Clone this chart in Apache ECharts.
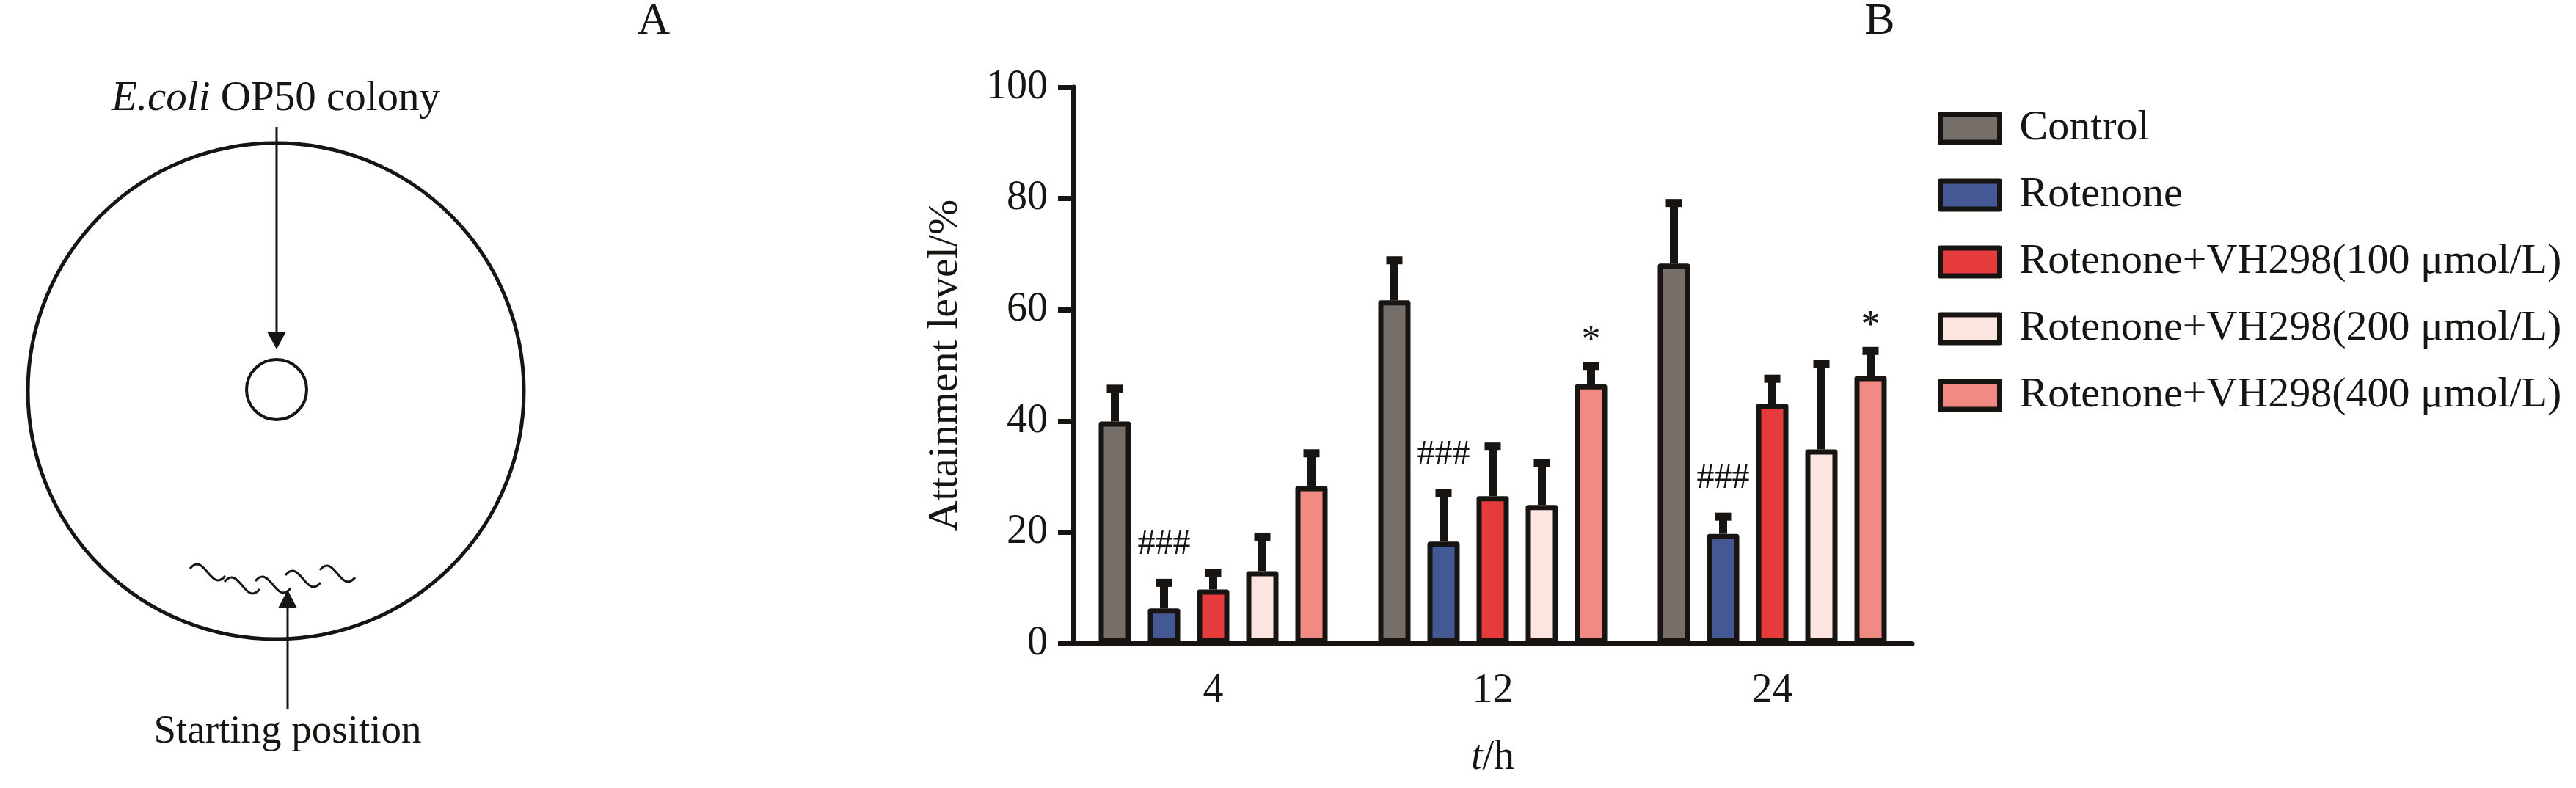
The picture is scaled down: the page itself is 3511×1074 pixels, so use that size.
<!DOCTYPE html>
<html>
<head>
<meta charset="utf-8">
<script src="https://cdn.jsdelivr.net/npm/echarts@6/dist/echarts.min.js"></script>
<style>
html,body{margin:0;padding:0;background:#fff;}
#chart{width:3511px;height:1074px;}
</style>
</head>
<body>
<div id="chart"></div>
<script>
// ---------- data ----------
const categories = ['4', '12', '24'];
const seriesNames = ['Control', 'Rotenone', 'Rotenone+VH298(100 \u03bcmol/L)', 'Rotenone+VH298(200 \u03bcmol/L)', 'Rotenone+VH298(400 \u03bcmol/L)'];
const controlMean = [39.9, 61.7, 68.3];
const rotenoneMean = [6.3, 18.3, 19.7];
const vh100Mean = [9.7, 26.5, 43.1];
const vh200Mean = [13.0, 24.9, 34.9];
const vh400Mean = [28.3, 46.6, 48.1];
const controlErr = [5.9, 7.2, 10.9];
const rotenoneErr = [4.6, 8.7, 3.1];
const vh100Err = [3.0, 8.9, 4.5];
const vh200Err = [6.2, 7.6, 15.3];
const vh400Err = [5.9, 3.3, 4.5];
const controlMarks = ['', '', ''];
const rotenoneMarks = ['###', '###', '###'];
const vh100Marks = ['', '', ''];
const vh200Marks = ['', '', ''];
const vh400Marks = ['', '*', '*'];
const yMin = 0, yMax = 100, yInterval = 20;

// ---------- style ----------
const INK = '#171411';
const FONT = 'Liberation Serif';
const colors = ['#766e68', '#455896', '#e63b3d', '#fce4e1', '#f08a82'];
const BAR_W = 44, BAR_GAP = 23;

const means = [controlMean, rotenoneMean, vh100Mean, vh200Mean, vh400Mean];
const errs = [controlErr, rotenoneErr, vh100Err, vh200Err, vh400Err];
const marks = [controlMarks, rotenoneMarks, vh100Marks, vh200Marks, vh400Marks];

const chart = echarts.init(document.getElementById('chart'), null, {renderer: 'canvas'});

function makeErr(si) {
  return function (params, api) {
    const j = api.value(0), m = api.value(1), e = api.value(2);
    const base = api.coord([j, m]);
    const top = api.coord([j, m + e]);
    const cx = base[0] + (si - 2) * (BAR_W + BAR_GAP);
    const children = [
      {type: 'line', shape: {x1: cx, y1: base[1], x2: cx, y2: top[1]}, style: {stroke: INK, lineWidth: 11}},
      {type: 'rect', shape: {x: cx - 11, y: top[1] - 5.5, width: 22, height: 11}, style: {fill: INK}}
    ];
    const mk = marks[si][params.dataIndex];
    if (mk) {
      const isStar = mk === '*';
      children.push({
        type: 'text',
        style: {
          text: mk, x: cx, y: top[1] - (isStar ? 33 : 52),
          align: 'center', verticalAlign: 'middle',
          fontFamily: FONT, fontSize: isStar ? 52 : 48, fill: INK
        }
      });
    }
    return {type: 'group', children: children};
  };
}

const series = [];
seriesNames.forEach(function (name, i) {
  series.push({
    name: name,
    type: 'bar',
    data: means[i],
    barWidth: BAR_W,
    barGap: (BAR_GAP / BAR_W * 100) + '%',
    itemStyle: {color: colors[i], borderColor: INK, borderWidth: 7, borderJoin: 'round'},
    z: 2
  });
});
seriesNames.forEach(function (name, i) {
  series.push({
    name: name + ' err',
    type: 'custom',
    renderItem: makeErr(i),
    encode: {x: 0, y: 1},
    data: categories.map(function (c, j) { return [j, means[i][j], errs[i][j]]; }),
    z: 3
  });
});

// decorative worm squiggles in panel A (drawing, not data)
const worms = [[283, 781], [330, 799], [372, 798], [413, 790], [460, 783]];
const wormEls = worms.map(function (w) {
  const x0 = w[0] - 24, x1 = w[0] + 24, y = w[1];
  return {
    type: 'bezierCurve',
    shape: {x1: x0, y1: y - 6, cpx1: x0 + 20, cpy1: y - 30, cpx2: x1 - 20, cpy2: y + 28, x2: x1, y2: y + 4},
    style: {fill: 'none', stroke: INK, lineWidth: 3}
  };
});

const option = {
  animation: false,
  backgroundColor: '#ffffff',
  textStyle: {fontFamily: FONT, color: INK},
  grid: {left: 1463, top: 119, width: 1143, height: 758, containLabel: false},
  legend: {
    orient: 'vertical', left: 2636, top: 141,
    data: seriesNames, icon: 'rect',
    itemWidth: 81, itemHeight: 38, itemGap: 33,
    itemStyle: {borderColor: INK, borderWidth: 7},
    textStyle: {fontFamily: FONT, fontSize: 58, color: INK, lineHeight: 45, padding: [0, 0, 0, 22]},
    selectedMode: false
  },
  xAxis: {
    type: 'category', data: categories,
    axisLine: {lineStyle: {color: INK, width: 7}},
    axisTick: {alignWithLabel: true, length: 21, lineStyle: {color: INK, width: 7}},
    axisLabel: {fontFamily: FONT, fontSize: 56, color: INK, margin: 37},
    name: '{i|t}{n|/h}', nameLocation: 'middle', nameGap: 128,
    nameTextStyle: {
      fontFamily: FONT, fontSize: 56, color: INK,
      rich: {
        i: {fontFamily: FONT, fontSize: 56, fontStyle: 'italic', color: INK},
        n: {fontFamily: FONT, fontSize: 56, color: INK}
      }
    }
  },
  yAxis: {
    type: 'value', min: yMin, max: yMax, interval: yInterval,
    axisLine: {show: true, lineStyle: {color: INK, width: 7}},
    axisTick: {show: true, length: 21, lineStyle: {color: INK, width: 7}},
    axisLabel: {fontFamily: FONT, fontSize: 56, color: INK, margin: 35},
    splitLine: {show: false},
    name: 'Attainment level/%', nameLocation: 'middle', nameGap: 145,
    nameTextStyle: {fontFamily: FONT, fontSize: 58, color: INK}
  },
  series: series,
  graphic: [
    {type: 'circle', shape: {cx: 376, cy: 533, r: 338}, style: {fill: 'none', stroke: INK, lineWidth: 5}},
    {type: 'circle', shape: {cx: 377, cy: 531, r: 41}, style: {fill: 'none', stroke: INK, lineWidth: 4}},
    {type: 'line', shape: {x1: 377, y1: 173, x2: 377, y2: 456}, style: {stroke: INK, lineWidth: 3}},
    {type: 'polygon', shape: {points: [[364, 452], [390, 452], [377, 476]]}, style: {fill: INK}},
    {type: 'line', shape: {x1: 392, y1: 967, x2: 392, y2: 824}, style: {stroke: INK, lineWidth: 3}},
    {type: 'polygon', shape: {points: [[379, 829], [405, 829], [392, 804]]}, style: {fill: INK}},
    {type: 'text', style: {text: '{i|E.coli} OP50 colony', x: 376, y: 135, align: 'center', verticalAlign: 'middle',
      fontFamily: FONT, fontSize: 57, fill: INK,
      rich: {i: {fontFamily: FONT, fontSize: 57, fontStyle: 'italic', fill: INK}}}},
    {type: 'text', style: {text: 'Starting position', x: 392, y: 998, align: 'center', verticalAlign: 'middle',
      fontFamily: FONT, fontSize: 55, fill: INK}},
    {type: 'text', style: {text: 'A', x: 891, y: 30, align: 'center', verticalAlign: 'middle', fontFamily: FONT, fontSize: 62, fill: INK}},
    {type: 'text', style: {text: 'B', x: 2562, y: 30, align: 'center', verticalAlign: 'middle', fontFamily: FONT, fontSize: 62, fill: INK}}
  ].concat(wormEls)
};
chart.setOption(option);
</script>
</body>
</html>
